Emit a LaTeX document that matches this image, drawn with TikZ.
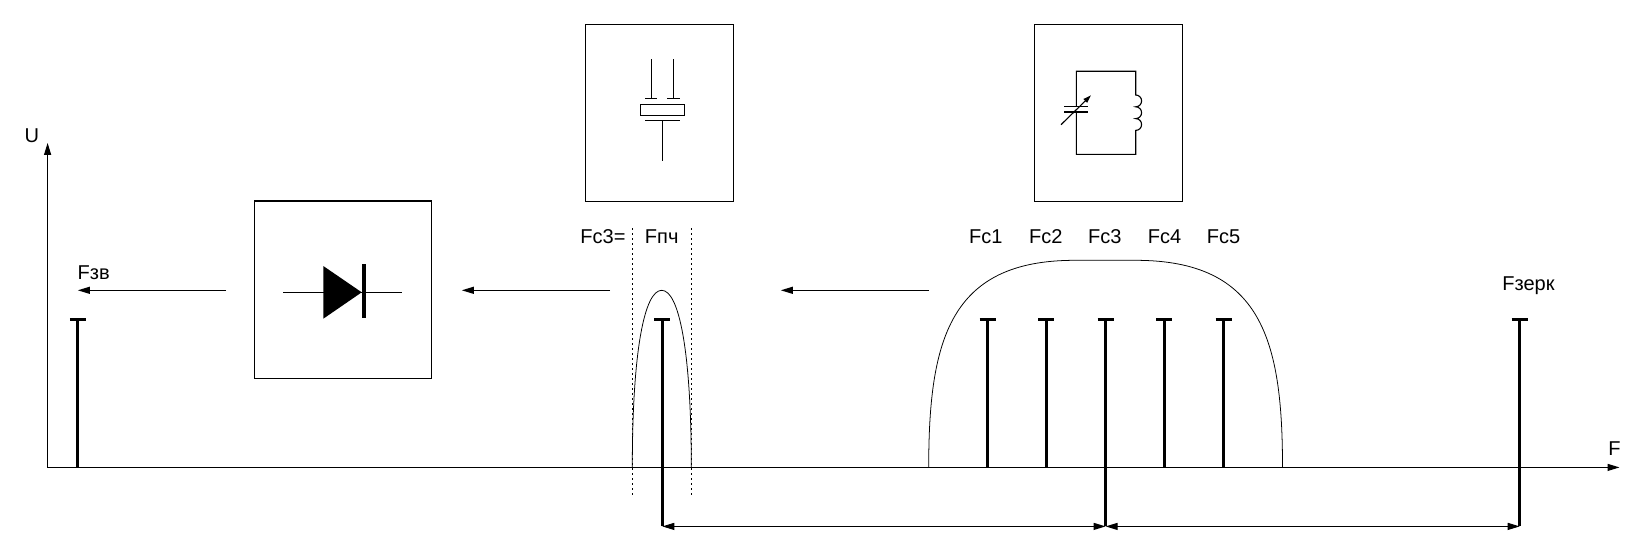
\documentclass[tikz,border=0pt]{standalone}
\usepackage{fontspec}
\setmainfont{Liberation Sans}
\usetikzlibrary{arrows.meta}
\tikzset{
    sharp/.tip={Triangle[length=1.2mm,width=.7mm]},
    thinline/.style={line width=.32pt},
    curveline/.style={line width=.22pt},
    pulseline/.style={line width=.85pt},
    dashline/.style={line width=.25pt,dash pattern=on .22mm off .28mm},
    arrowline/.style={thinline,-sharp},
    blockbox/.style={draw,thinline,inner sep=0pt,outer sep=0pt,minimum width=#1,minimum height=1.773cm},
    lbl/.style={anchor=base,inner sep=0pt,font=\fontsize{5.7}{6}\selectfont},
}
\begin{document}
\begin{tikzpicture}
    \useasboundingbox (-.476,-.856) rectangle (15.954,4.674);

    % axes
    \coordinate (org) at (0,0);
    \coordinate (utop) at (0,3.245);
    \coordinate (fend) at (15.719,0);
    \draw[thinline,sharp-sharp] (utop) -- (org) -- (fend);
    \node[lbl] (ulabel) at (-.158,3.245) {U};
    \node[lbl] (flabel) at (15.668,.124) {F};

    % blocks
    \node[blockbox=1.774cm] (detbox) at (2.954,1.778) {};
    \node[blockbox=1.484cm] (crystbox) at (6.119,3.546) {};
    \node[blockbox=1.484cm] (lcbox) at (10.609,3.546) {};

    % diode
    \draw[thinline] (2.354,1.751) -- (3.544,1.751);
    \fill (2.757,2.014) -- (3.141,1.751) -- (2.757,1.487) -- cycle;
    \draw[line width=1.1pt] (3.164,2.034) -- (3.164,1.494);

    % crystal
    \draw[thinline] (6.037,4.084) -- ++(0,-.393);
    \draw[thinline] (6.257,4.084) -- ++(0,-.393);
    \draw[thinline] (5.974,3.691) -- ++(.12,0);
    \draw[thinline] (6.194,3.691) -- ++(.127,0);
    \draw[thinline] (5.927,3.517) rectangle (6.371,3.631);
    \draw[thinline] (5.974,3.471) -- ++(.347,0);
    \draw[thinline] (6.147,3.471) -- ++(0,-.404);

    % tank circuit
    \draw[thinline] (10.287,3.611) -- ++(0,.35) -- ++(.594,0) -- ++(0,-.237)
        arc (90:-90:.059) arc (90:-90:.059) arc (90:-90:.059)
        -- ++(0,-.24) -- ++(-.594,0) -- ++(0,.423);
    \draw[thinline] (10.167,3.611) -- ++(.234,0);
    \draw[thinline] (10.167,3.554) -- ++(.234,0);
    \draw[thinline,-{Triangle[length=.8mm,width=.5mm]}] (10.134,3.427) -- (10.434,3.721);

    % signal path arrows
    \coordinate (a1from) at (1.784,1.771);
    \coordinate (a1to) at (.302,1.771);
    \coordinate (a2from) at (5.624,1.771);
    \coordinate (a2to) at (4.142,1.771);
    \coordinate (a3from) at (8.814,1.771);
    \coordinate (a3to) at (7.332,1.771);
    \draw[arrowline] (a1from) -- (a1to);
    \draw[arrowline] (a2from) -- (a2to);
    \draw[arrowline] (a3from) -- (a3to);

    % filter curves
    \draw[curveline] (5.847,0) .. controls (5.847,1.174) and (5.97,1.771) .. (6.141,1.771)
        .. controls (6.312,1.771) and (6.437,1.174) .. (6.437,0);
    \draw[curveline] (8.811,0) .. controls (8.811,1.274) and (9.02,2.071) .. (10.27,2.071)
        -- (10.88,2.071) .. controls (12.14,2.071) and (12.349,1.274) .. (12.349,0);
    \draw[dashline] (5.847,2.394) -- ++(0,-2.687);
    \draw[dashline] (6.437,2.394) -- ++(0,-2.687);

    % pulses
    \draw[pulseline] (.302,0) -- ++(0,1.482) ++(-.08,0) -- ++(.16,0);
    \draw[pulseline] (9.399,0) -- ++(0,1.482) ++(-.08,0) -- ++(.16,0);
    \draw[pulseline] (9.986,0) -- ++(0,1.482) ++(-.08,0) -- ++(.16,0);
    \draw[pulseline] (11.168,0) -- ++(0,1.482) ++(-.08,0) -- ++(.16,0);
    \draw[pulseline] (11.761,0) -- ++(0,1.482) ++(-.08,0) -- ++(.16,0);
    \coordinate (fpch) at (6.147,-.59);
    \coordinate (fc3) at (10.58,-.59);
    \coordinate (fmirror) at (14.721,-.59);
    \draw[pulseline] (fpch) -- ++(0,2.072) ++(-.08,0) -- ++(.16,0);
    \draw[pulseline] (fc3) -- ++(0,2.072) ++(-.08,0) -- ++(.16,0);
    \draw[pulseline] (fmirror) -- ++(0,2.072) ++(-.08,0) -- ++(.16,0);
    \draw[thinline,sharp-sharp] (fpch) -- (fc3);
    \draw[thinline,sharp-sharp] (fc3) -- (fmirror);

    % labels
    \node[lbl] (lblzv) at (.461,1.877) {Fзв};
    \node[lbl] (lbleq) at (5.553,2.24) {Fс3=};
    \node[lbl] (lblpch) at (6.141,2.24) {Fпч};
    \node[lbl] (lblc1) at (9.382,2.24) {Fс1};
    \node[lbl] (lblc2) at (9.982,2.24) {Fс2};
    \node[lbl] (lblc3) at (10.572,2.24) {Fс3};
    \node[lbl] (lblc4) at (11.169,2.24) {Fс4};
    \node[lbl] (lblc5) at (11.759,2.24) {Fс5};
    \node[lbl] (lblzerk) at (14.809,1.774) {Fзерк};

\end{tikzpicture}
\end{document}
